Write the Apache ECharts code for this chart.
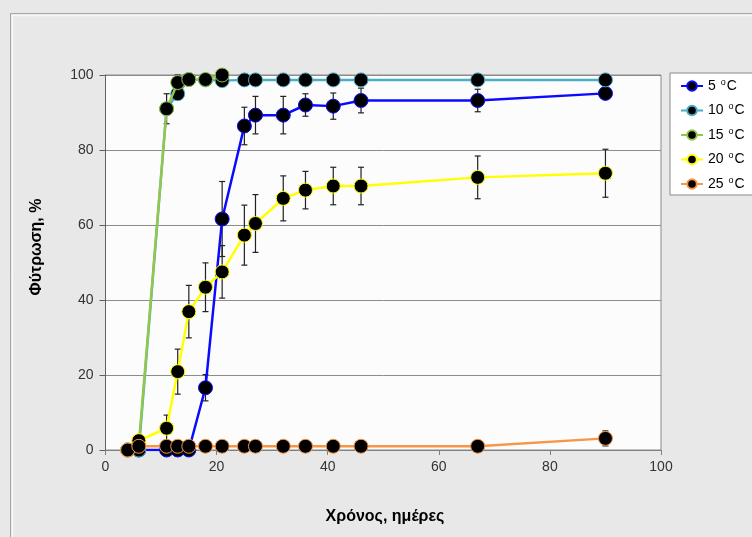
<!DOCTYPE html>
<html>
<head>
<meta charset="utf-8">
<script src="https://cdn.jsdelivr.net/npm/echarts@6/dist/echarts.min.js"></script>
<style>html,body{margin:0;padding:0;background:#e8e8e8;}#c{width:752px;height:537px;}</style>
</head>
<body>
<div id="c"></div>
<script>
const days = [4, 6, 11, 13, 15, 18, 21, 25, 27, 32, 36, 41, 46, 67, 90];
const seriesNames = ['5 °C', '10 °C', '15 °C', '20 °C', '25 °C'];
const s5  = [0, 0, 0, 0, 0, 16.6, 61.6, 86.4, 89.3, 89.3, 92, 91.7, 93.2, 93.2, 95.1];
const e5  = [0, 0, 0, 0, 0, 3.5, 10, 5, 5, 5, 3, 3.5, 3.3, 3, 1];
const s10 = [0, 0, 91, 95, 98.8, 98.7, 98.5, 98.7, 98.7, 98.7, 98.7, 98.7, 98.7, 98.7, 98.7];
const e10 = [0, 0, 0, 1, 0, 0, 0, 0, 0, 0, 0, 0, 0, 0, 0];
const days15 = [4, 6, 11, 13, 15, 18, 21];
const s15 = [0, 1.5, 91, 98, 98.8, 98.8, 100];
const e15 = [0, 0, 4, 2, 0, 0, 0];
const s20 = [0, 2.5, 5.8, 20.9, 36.9, 43.4, 47.5, 57.3, 60.4, 67.1, 69.3, 70.4, 70.4, 72.7, 73.8];
const e20 = [0, 0, 3.5, 6, 7, 6.5, 7, 8, 7.7, 6, 5, 5, 5, 5.7, 6.4];
const s25 = [0, 1, 1, 1, 1, 1, 1, 1, 1, 1, 1, 1, 1, 1, 3.1];
const e25 = [0, 0, 0, 0, 0, 0, 0, 0, 0, 0, 0, 0, 0, 0, 2];
const xTicks = [0, 20, 40, 60, 80, 100];
const yTicks = [0, 20, 40, 60, 80, 100];

const colors = ['#0a0aff', '#4bacc6', '#92c84a', '#ffff00', '#f79646'];
const groups = [
  [days, s5, e5], [days, s10, e10], [days15, s15, e15], [days, s20, e20], [days, s25, e25]
];

const chart = echarts.init(document.getElementById('c'));
const series = [];
groups.forEach((g, i) => {
  const [xs, ys, es] = g;
  const eb = [];
  xs.forEach((x, k) => { if (es[k] > 0) eb.push([x, ys[k], es[k]]); });
  series.push({
    name: 'err' + i, type: 'custom', z: 2 + i * 2, silent: true,
    data: eb,
    renderItem: function (params, api) {
      const x = api.value(0), y = api.value(1), e = api.value(2);
      const t = api.coord([x, y + e]), b = api.coord([x, y - e]);
      const st = { stroke: '#222', lineWidth: 1.2 };
      return { type: 'group', children: [
        { type: 'line', shape: { x1: t[0], y1: t[1], x2: b[0], y2: b[1] }, style: st },
        { type: 'line', shape: { x1: t[0] - 3, y1: t[1], x2: t[0] + 3, y2: t[1] }, style: st },
        { type: 'line', shape: { x1: b[0] - 3, y1: b[1], x2: b[0] + 3, y2: b[1] }, style: st }
      ]};
    }
  });
  series.push({
    name: seriesNames[i], type: 'line', z: 3 + i * 2,
    data: xs.map((x, k) => [x, ys[k]]),
    symbol: 'circle', symbolSize: 14,
    lineStyle: { color: colors[i], width: 2.5 },
    itemStyle: { color: '#000', borderColor: colors[i], borderWidth: 1 },
    emphasis: { disabled: true }
  });
});

chart.setOption({
  animation: false,
  backgroundColor: '#e8e8e8',
  textStyle: { fontFamily: 'Liberation Sans, Arial, sans-serif' },
  grid: { left: 105.5, right: 91, top: 75, bottom: 87, show: true, backgroundColor: '#fcfcfc', borderColor: '#8a8a8a', borderWidth: 1 },
  xAxis: {
    type: 'value', min: 0, max: 100, interval: 20,
    axisLine: { show: true, lineStyle: { color: '#808080', width: 1 } },
    axisTick: { show: true, length: 5, lineStyle: { color: '#808080' } },
    axisLabel: { color: '#333', fontSize: 14, margin: 10, formatter: v => xTicks.includes(v) ? String(v) : '' },
    splitLine: { show: false }
  },
  yAxis: {
    type: 'value', min: 0, max: 100, interval: 20,
    axisLine: { show: true, lineStyle: { color: '#606060', width: 1 } },
    axisTick: { show: true, length: 6, lineStyle: { color: '#606060' } },
    axisLabel: { color: '#333', fontSize: 14, margin: 12, formatter: v => yTicks.includes(v) ? String(v) : '' },
    splitLine: { show: true, lineStyle: { color: '#8c8c8c', width: 1 } }
  },
  legend: {
    data: seriesNames,
    orient: 'vertical', left: 670, top: 73,
    itemWidth: 22, itemHeight: 12, itemGap: 8.5,
    padding: [5, 60, 3, 10],
    backgroundColor: '#ffffff', borderColor: '#8a8a8a', borderWidth: 1,
    formatter: n => '{a|' + n.replace(' °C', ' ') + '}{sup|o}{a|C}',
    textStyle: {
      color: '#000', fontSize: 14, lineHeight: 16,
      rich: {
        a: { fontSize: 14, color: '#000', lineHeight: 16 },
        sup: { fontSize: 9, color: '#000', lineHeight: 9, verticalAlign: 'top', padding: [0, 1, 0, 1] }
      }
    }
  },
  graphic: [
    { type: 'rect', shape: { x: 10.5, y: 13.5, width: 800, height: 600 }, style: { fill: 'none', stroke: '#a6a6a6', lineWidth: 1 }, z: 100 },
    { type: 'rect', shape: { x: 12.5, y: 15.5, width: 800, height: 600 }, style: { fill: 'none', stroke: '#f6f6f6', lineWidth: 1.5 }, z: 100 },
    { type: 'text', x: 385, y: 517, style: { text: 'Χρόνος, ημέρες', font: 'bold 16px Liberation Sans, Arial, sans-serif', fill: '#000', textAlign: 'center', textVerticalAlign: 'middle' } },
    { type: 'text', x: 37, y: 247, rotation: Math.PI / 2, style: { text: 'Φύτρωση, %', font: 'bold 16px Liberation Sans, Arial, sans-serif', fill: '#000', textAlign: 'center', textVerticalAlign: 'middle' } }
  ],
  series: series
});
</script>
</body>
</html>
